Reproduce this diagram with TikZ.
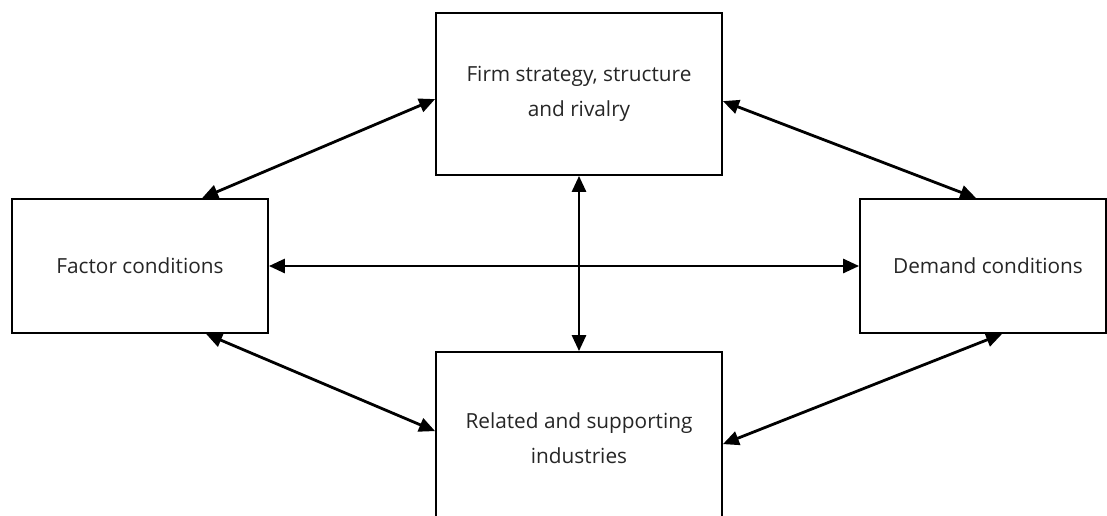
\documentclass[tikz,border=0pt]{standalone}
\usepackage{fontspec}
\setmainfont{Open Sans}
\usetikzlibrary{arrows.meta,calc}
\begin{document}
\begin{tikzpicture}[x=1pt,y=-1pt,
  box/.style={draw=black,line width=1.8pt,fill=white,align=center,inner sep=0pt,
    font=\fontsize{20.8}{35}\selectfont,text=black!85},
  link/.style={line width=2.8pt,{Triangle[length=16pt,width=14pt]}-{Triangle[length=16pt,width=14pt]}}]
\useasboundingbox (0,0) rectangle (1107,515);
\node[box,minimum width=286pt,minimum height=162pt] (top) at (579,94) {Firm strategy, structure\\and rivalry};
\node[box,minimum width=256pt,minimum height=134pt] (left) at (140,266) {Factor conditions};
\node[box,minimum width=246pt,minimum height=134pt] (right) at (983,266) {\hspace*{10pt}Demand conditions};
\node[box,minimum width=286pt,minimum height=172pt] (bottom) at (579,438) {Related and supporting\\industries};
\draw[link] ($(top.north west)+(0,87)$) -- ($(left.north west)+(191,0)$);
\draw[link] ($(top.north east)+(0,89)$) -- ($(right.north west)+(117,0)$);
\draw[link] (left.east) -- (right.west);
\draw[link] (top.south) -- (bottom.north);
\draw[link] ($(left.south west)+(195,0)$) -- ($(bottom.north west)+(0,80)$);
\draw[link] ($(bottom.north east)+(0,93)$) -- ($(right.south west)+(143,0)$);
\end{tikzpicture}
\end{document}
